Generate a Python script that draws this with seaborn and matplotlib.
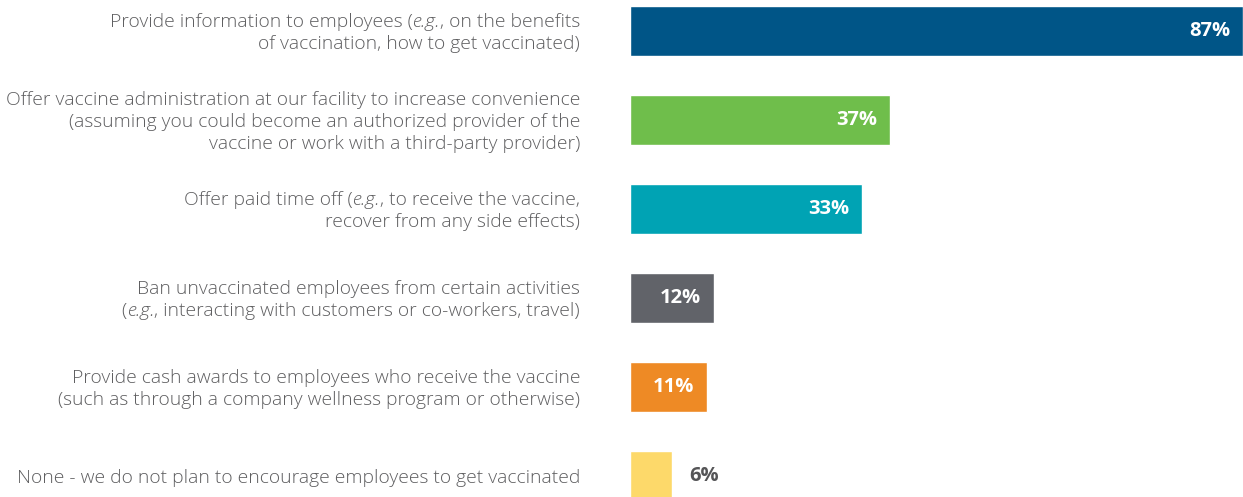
import matplotlib
matplotlib.use("Agg")
import matplotlib.pyplot as plt
import seaborn as sns
import pandas as pd

categories = [
    "Provide information to employees (e.g., on the benefits\nof vaccination, how to get vaccinated)",
    "Offer vaccine administration at our facility to increase convenience\n(assuming you could become an authorized provider of the\nvaccine or work with a third-party provider)",
    "Offer paid time off (e.g., to receive the vaccine,\nrecover from any side effects)",
    "Ban unvaccinated employees from certain activities\n(e.g., interacting with customers or co-workers, travel)",
    "Provide cash awards to employees who receive the vaccine\n(such as through a company wellness program or otherwise)",
    "None - we do not plan to encourage employees to get vaccinated",
]
values = [87, 37, 33, 12, 11, 6]
value_labels = ["87%", "37%", "33%", "12%", "11%", "6%"]
colors = ["#005587", "#6fbe4b", "#00a3b4", "#616369", "#ee8a25", "#fdd96a"]

sns.set_theme(style="white")
plt.rcParams["font.family"] = ["Open Sans", "DejaVu Sans"]

W, H, DPI = 12.43, 4.97, 100
fig = plt.figure(figsize=(W, H), dpi=DPI)
ax_left = 629.5 / 1243
ax = fig.add_axes([ax_left, 0, 1 - ax_left, 1])

df = pd.DataFrame({"cat": categories, "val": values})
sns.barplot(data=df, y="cat", x="val", hue="cat", palette=colors,
            orient="h", width=0.56, legend=False, ax=ax, saturation=1)
ax.set_xlim(0, 87)
ax.set_ylim(5.236, -0.348)
ax.set_xlabel("")
ax.set_ylabel("")
ax.set_yticks([])
ax.set_xticks([])
for s in ax.spines.values():
    s.set_visible(False)

# value labels
for i, (v, lab) in enumerate(zip(values, value_labels)):
    if v >= 10:
        ax.annotate(lab, xy=(v, i), xytext=(-13, 0), textcoords="offset pixels",
                    ha="right", va="center", color="white", fontsize=14.5,
                    fontweight="bold")
    else:
        ax.annotate(lab, xy=(v, i), xytext=(17, 0), textcoords="offset pixels",
                    ha="left", va="center", color="#555557", fontsize=14.5,
                    fontweight="bold")

# category labels with italic "e.g."
fig.canvas.draw()
renderer = fig.canvas.get_renderer()
label_color = "#5e5e60"
fs = 13.9
fw = "light"
line_h = 22  # pixels
right_px = 580
y_shift = -2  # pixels
fig_w_px = W * DPI
fig_h_px = H * DPI

def seg_width(txt, style):
    t = fig.text(0, 0, txt, fontsize=fs, style=style, fontweight=fw)
    w = t.get_window_extent(renderer).width
    t.remove()
    return w

for i, cat in enumerate(categories):
    lines = cat.split("\n")
    yc_disp = ax.transData.transform((0, i))[1] + y_shift
    n = len(lines)
    for k, line in enumerate(lines):
        y_px = yc_disp + ((n - 1) / 2 - k) * line_h
        parts = line.split("e.g.")
        segs = []
        for j, p in enumerate(parts):
            if p:
                segs.append((p, "normal"))
            if j < len(parts) - 1:
                segs.append(("e.g.", "italic"))
        widths = [seg_width(t, s) for t, s in segs]
        x = right_px - sum(widths)
        for (t, s), w in zip(segs, widths):
            fig.text(x / fig_w_px, y_px / fig_h_px, t, fontsize=fs, style=s,
                     fontweight=fw, color=label_color,
                     ha="left", va="center")
            x += w

fig.savefig("out.png", dpi=DPI)
